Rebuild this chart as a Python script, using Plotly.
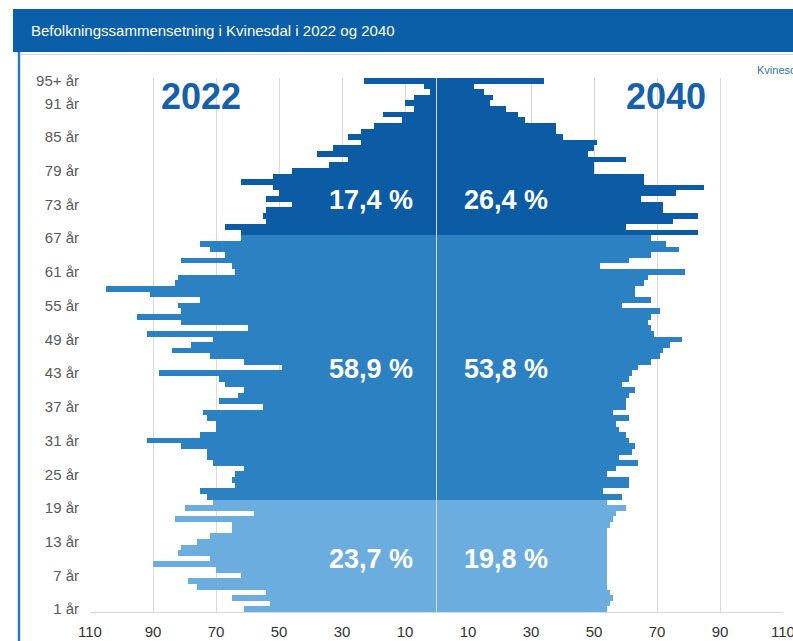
import plotly.graph_objects as go

# ─── DATA ───
# alder 1..94 og 95+ (nederst -> øverst)
ALDER = list(range(1, 96))
ALDER_TEKST = [f"{a} år" for a in ALDER[:-1]] + ["95+ år"]

# antall personer per alderstrinn, 2022 (venstre side)
BEF_2022 = [
    61, 53, 65, 54, 76, 79, 62, 70, 90, 72,
    82, 81, 76, 72, 65, 65, 83, 58, 80, 71,
    73, 75, 64, 65, 64, 61, 71, 73, 73, 81,
    92, 75, 70, 70, 73, 74, 55, 69, 63, 61,
    67, 69, 88, 49, 61, 72, 84, 78, 71, 92,
    60, 81, 95, 81, 82, 75, 91, 105, 83, 82,
    64, 65, 81, 67, 72, 75, 62, 62, 67, 54,
    55, 54, 46, 54, 50, 52, 62, 52, 46, 34,
    28, 38, 33, 24, 28, 24, 20, 11, 17, 7,
    10, 7, 2, 4, 23,
]

# framskrevet 2040 (høyre side)
BEF_2040 = [
    54, 55, 56, 55, 54, 54, 54, 54, 54, 54,
    54, 54, 54, 54, 54, 55, 56, 57, 60, 54,
    59, 53, 61, 61, 54, 57, 64, 58, 62, 63,
    61, 60, 58, 57, 61, 56, 60, 60, 61, 63,
    59, 61, 62, 64, 68, 71, 72, 74, 78, 69,
    68, 67, 68, 71, 59, 68, 63, 63, 66, 67,
    79, 52, 61, 68, 77, 73, 68, 83, 60, 75,
    83, 72, 72, 65, 76, 85, 66, 66, 50, 50,
    60, 48, 50, 51, 40, 38, 38, 28, 26, 22,
    17, 18, 15, 12, 34,
]

# aldersgrupper og andeler
GRUPPE_GRENSER = [20, 67]          # siste alder i gruppe 1 og 2
ANDEL_2022 = ["23,7 %", "58,9 %", "17,4 %"]
ANDEL_2040 = ["19,8 %", "53,8 %", "26,4 %"]

X_TICKS = [-110, -90, -70, -50, -30, -10, 10, 30, 50, 70, 90, 110]
Y_TICKS = [1, 7, 13, 19, 25, 31, 37, 43, 49, 55, 61, 67, 73, 79, 85, 91, 95]

# ─── STIL ───
LYS = "#6badde"
MELLOM = "#2b81c1"
MORK = "#0b5ca5"
TITTELBLA = "#0b5ea8"
FONT = "Liberation Sans, Arial, sans-serif"
W, H = 793, 641
ML, MR, MT, MB = 90, 10, 78, 29


def gruppe_farge(a):
    if a <= GRUPPE_GRENSER[0]:
        return LYS
    if a <= GRUPPE_GRENSER[1]:
        return MELLOM
    return MORK


farger = [gruppe_farge(a) for a in ALDER]


def px2x(px):
    return (px - ML) / (W - ML - MR)


def py2y(py):
    return (H - MB - py) / (H - MT - MB)


fig = go.Figure()
fig.add_trace(go.Bar(
    y=ALDER, x=[-v for v in BEF_2022], orientation="h",
    marker=dict(color=farger, line=dict(width=0)), width=1,
    name="2022", customdata=BEF_2022, hovertemplate="%{y}: %{customdata}<extra>2022</extra>",
))
fig.add_trace(go.Bar(
    y=ALDER, x=BEF_2040, orientation="h",
    marker=dict(color=farger, line=dict(width=0)), width=1,
    name="2040", hovertemplate="%{y}: %{x}<extra>2040</extra>",
))

# midtlinje
fig.add_shape(type="line", xref="x", yref="paper", x0=0, x1=0, y0=0, y1=1,
              line=dict(color="#d6d6d6", width=1), layer="above")

# tittelfelt og ramme
fig.add_shape(type="rect", xref="paper", yref="paper",
              x0=px2x(13), x1=px2x(800), y0=py2y(52), y1=py2y(9),
              fillcolor=TITTELBLA, line=dict(width=0), layer="above")
fig.add_shape(type="line", xref="paper", yref="paper",
              x0=px2x(19), x1=px2x(19), y0=py2y(660), y1=py2y(52),
              line=dict(color="#2b7bbf", width=2.5))
fig.add_shape(type="line", xref="paper", yref="paper",
              x0=px2x(20), x1=px2x(800), y0=py2y(54.5), y1=py2y(54.5),
              line=dict(color="#d9d9d9", width=1))

fig.add_annotation(text="Befolkningssammensetning i Kvinesdal i 2022 og 2040",
                   xref="paper", yref="paper", x=px2x(29), y=py2y(31),
                   xanchor="left", yanchor="middle", showarrow=False,
                   font=dict(family=FONT, size=15, color="white"))
fig.add_annotation(text="Kvinesdal", xref="paper", yref="paper", x=px2x(755), y=py2y(70),
                   xanchor="left", yanchor="middle", showarrow=False,
                   font=dict(family=FONT, size=11, color="#2e75b6"))

# årstall
for tekst, x in [("2022", -74.8), ("2040", 72.9)]:
    fig.add_annotation(text=tekst, x=x, y=92.2, xref="x", yref="y", showarrow=False,
                       font=dict(family=FONT, size=36, color="#1460aa", weight="bold"))

# andeler per gruppe
GRUPPE_Y = [10.0, 43.7, 73.8]
for i, gy in enumerate(GRUPPE_Y):
    fig.add_annotation(text=ANDEL_2022[i], x=-20.8, y=gy, xref="x", yref="y", showarrow=False,
                       font=dict(family=FONT, size=27, color="white", weight="bold"))
    fig.add_annotation(text=ANDEL_2040[i], x=22.2, y=gy, xref="x", yref="y", showarrow=False,
                       font=dict(family=FONT, size=27, color="white", weight="bold"))

fig.update_layout(
    width=W, height=H,
    margin=dict(l=ML, r=MR, t=MT, b=MB),
    barmode="relative", bargap=0,
    showlegend=False,
    plot_bgcolor="white", paper_bgcolor="white",
    font=dict(family=FONT),
    xaxis=dict(
        range=[-110, 110], tickmode="array", tickvals=X_TICKS,
        ticktext=[str(abs(v)) for v in X_TICKS],
        showgrid=True, gridcolor="#d9d9d9", gridwidth=1, zeroline=False,
        showline=True, linecolor="#d9d9d9", linewidth=1,
        ticks="", ticklabelstandoff=6, automargin=False,
        ticklabeloverflow="allow",
        tickfont=dict(size=15, color="#333333"),
    ),
    yaxis=dict(
        range=[0.5, 95.5], tickmode="array", tickvals=Y_TICKS,
        ticktext=[ALDER_TEKST[a - 1] for a in Y_TICKS],
        showgrid=False, zeroline=False, showline=False,
        ticks="", ticklabelstandoff=10, automargin=False,
        tickfont=dict(size=15, color="#595959"),
    ),
)

# siden har 8px marg i body som standard; fjern den så figuren starter i hjørnet
fig.write_html("out.html", config={"displayModeBar": False},
               post_script="document.body.style.margin='0';")
